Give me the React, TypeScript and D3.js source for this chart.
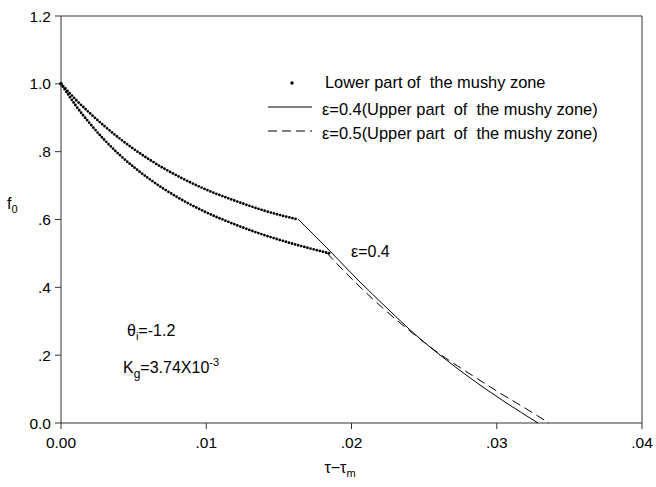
import React from "react";
import * as d3 from "d3";

// Lower part of the mushy zone (dotted), two branches
const upperTau = [0, 0.0005, 0.001, 0.002, 0.003, 0.004, 0.006, 0.008, 0.010, 0.012, 0.014, 0.0163];
const upperF = [1.0, 0.977, 0.954, 0.913, 0.875, 0.840, 0.779, 0.729, 0.688, 0.655, 0.626, 0.600];
const lowerTau = [0, 0.0005, 0.001, 0.002, 0.003, 0.004, 0.006, 0.008, 0.010, 0.012, 0.014, 0.016, 0.0185];
const lowerF = [1.0, 0.968, 0.937, 0.8825, 0.834, 0.792, 0.722, 0.666, 0.621, 0.585, 0.554, 0.528, 0.500];

// Upper part of the mushy zone
const eps04Tau = [0.01632, 0.01852, 0.02038, 0.02251, 0.02458, 0.02644, 0.02836, 0.03057, 0.03284];
const eps04F = [0.601, 0.507, 0.4245, 0.336, 0.2535, 0.1887, 0.1268, 0.0619, 0];
const eps05Tau = [0.01831, 0.01921, 0.02059, 0.02231, 0.02403, 0.02609, 0.02816, 0.03022, 0.03194, 0.0336];
const eps05F = [0.501, 0.460, 0.401, 0.333, 0.271, 0.203, 0.1445, 0.0884, 0.0442, 0];

const xTicks = [0, 0.01, 0.02, 0.03, 0.04];
const xTickLabels = ["0.00", ".01", ".02", ".03", ".04"];
const yTicks = [0, 0.2, 0.4, 0.6, 0.8, 1.0, 1.2];
const yTickLabels = ["0.0", ".2", ".4", ".6", ".8", "1.0", "1.2"];

const legendLabels = [
  "Lower part of  the mushy zone",
  "\u03b5=0.4(Upper part  of  the mushy zone)",
  "\u03b5=0.5(Upper part  of  the mushy zone)",
];

const W = 656;
const H = 487;
const L = 61, R = 642, T = 16, B = 423;
const FONT = "'Liberation Sans', Arial, sans-serif";
const FS = 15.5;
const LFS = 16.4;

export default function App() {
  const x = d3.scaleLinear().domain([0, 0.04]).range([L, R]);
  const y = d3.scaleLinear().domain([0, 1.2]).range([B, T]);
  const line = d3
    .line<[number, number]>()
    .x((d) => x(d[0]))
    .y((d) => y(d[1]))
    .curve(d3.curveMonotoneX);
  const zip = (a: number[], b: number[]) => a.map((v, i) => [v, b[i]] as [number, number]);

  const axisColor = "#333";
  return (
    <svg
      width={W}
      height={H}
      style={{ position: "absolute", left: 0, top: 0, background: "#fff" }}
      fontFamily={FONT}
    >
      {/* frame */}
      <line x1={L} x2={R} y1={T} y2={T} stroke={axisColor} strokeWidth={1} />
      <line x1={R} x2={R} y1={T} y2={B} stroke={axisColor} strokeWidth={1} />
      <line x1={L} x2={R} y1={B} y2={B} stroke={axisColor} strokeWidth={1} />
      <line x1={L} x2={L} y1={T} y2={B} stroke={axisColor} strokeWidth={1} />
      {/* x ticks */}
      {xTicks.map((t, i) => (
        <g key={"x" + i}>
          <line x1={x(t)} x2={x(t)} y1={B} y2={B + 6} stroke={axisColor} />
          <text x={x(t)} y={B + 25} textAnchor="middle" fontSize={FS} fill="#000">
            {xTickLabels[i]}
          </text>
        </g>
      ))}
      {/* y ticks */}
      {yTicks.map((t, i) => (
        <g key={"y" + i}>
          <line x1={L - 6} x2={L} y1={y(t)} y2={y(t)} stroke={axisColor} />
          <text x={L - 10} y={y(t) + 5.5} textAnchor="end" fontSize={FS} fill="#000">
            {yTickLabels[i]}
          </text>
        </g>
      ))}
      {/* axis titles */}
      <text x={7} y={209} fontSize={16} fill="#000">
        f<tspan fontSize={11} dy={4}>0</tspan>
      </text>
      <text x={340} y={473} textAnchor="middle" fontSize={16} fill="#000">
        {"\u03c4\u2212\u03c4"}
        <tspan fontSize={11} dy={4}>m</tspan>
      </text>

      {/* dotted curves */}
      {[zip(upperTau, upperF), zip(lowerTau, lowerF)].map((d, i) => (
        <path
          key={"dot" + i}
          d={line(d) || ""}
          fill="none"
          stroke="#000"
          strokeWidth={2.8}
          strokeLinecap="round"
          strokeDasharray="0 3.2"
        />
      ))}
      <circle cx={x(0)} cy={y(1)} r={1.8} fill="#000" />
      {/* upper part curves */}
      <path d={line(zip(eps04Tau, eps04F)) || ""} fill="none" stroke="#000" strokeWidth={1} />
      <path
        d={line(zip(eps05Tau, eps05F)) || ""}
        fill="none"
        stroke="#000"
        strokeWidth={1}
        strokeDasharray="9 5"
      />

      {/* legend */}
      <circle cx={292} cy={83} r={1.7} fill="#000" />
      <text x={325} y={88} fontSize={LFS} fill="#000" style={{ whiteSpace: "pre" }}>
        {legendLabels[0]}
      </text>
      <line x1={268} x2={312} y1={107} y2={107} stroke="#000" strokeWidth={1} />
      <text x={322} y={115} fontSize={LFS} fill="#000" style={{ whiteSpace: "pre" }}>
        {legendLabels[1]}
      </text>
      <line x1={268} x2={312} y1={131} y2={131} stroke="#000" strokeWidth={1} strokeDasharray="9 5" />
      <text x={322} y={139} fontSize={LFS} fill="#000" style={{ whiteSpace: "pre" }}>
        {legendLabels[2]}
      </text>

      {/* annotations */}
      <text x={351} y={257} fontSize={16} fill="#000">
        {"\u03b5=0.4"}
      </text>
      <text x={127} y={336} fontSize={16} fill="#000">
        {"\u03b8"}
        <tspan fontSize={11} dy={4}>i</tspan>
        <tspan dy={-4}>=-1.2</tspan>
      </text>
      <text x={123} y={373} fontSize={16} fill="#000">
        K<tspan fontSize={12} dy={5}>g</tspan>
        <tspan dy={-5}>=3.74X10</tspan>
        <tspan fontSize={11} dy={-7}>-3</tspan>
      </text>
    </svg>
  );
}
